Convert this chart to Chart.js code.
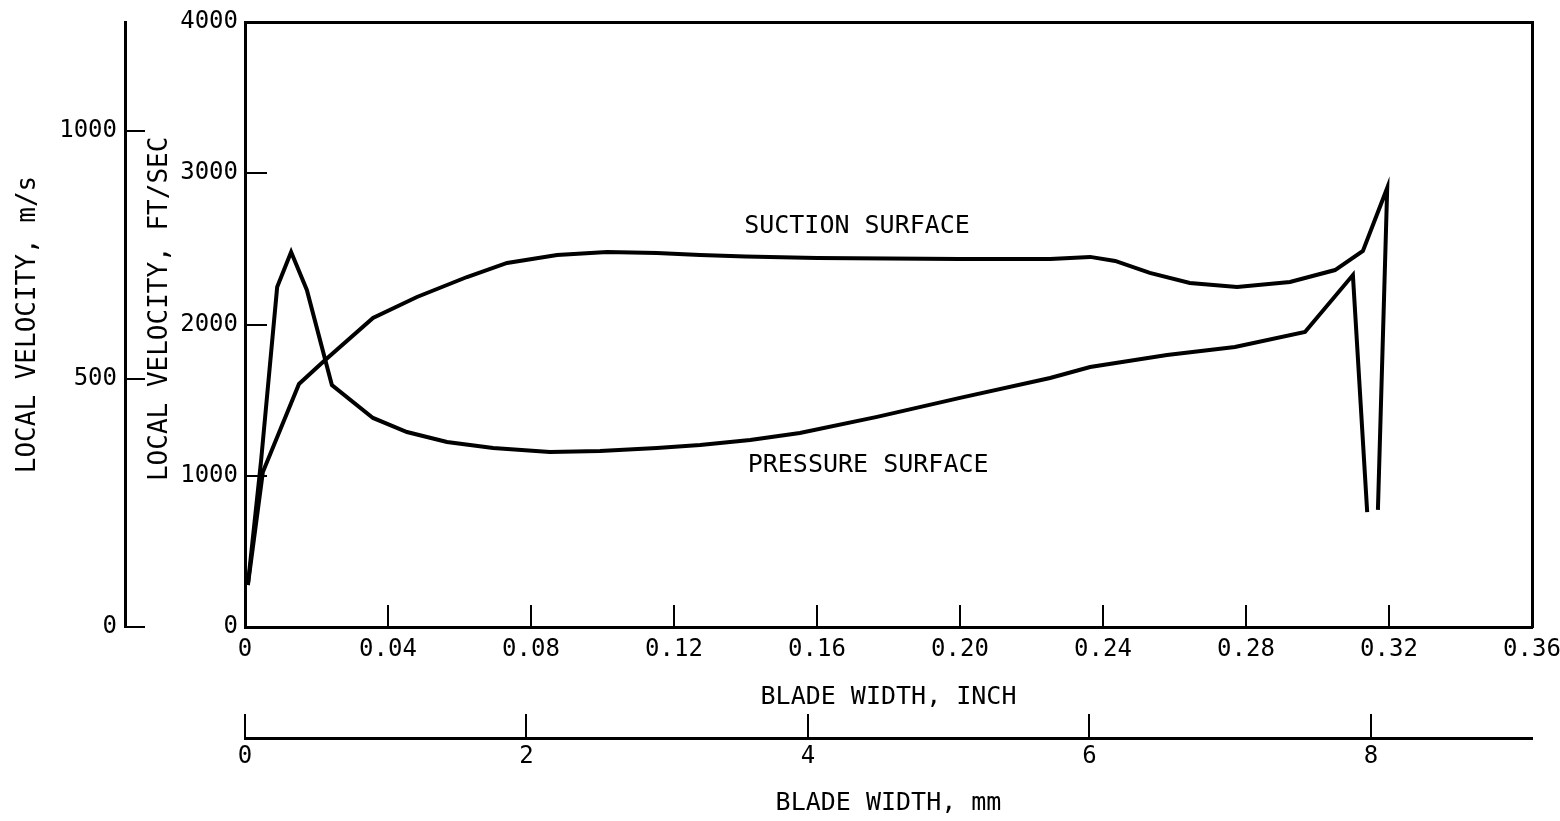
<!DOCTYPE html>
<html>
<head>
<meta charset="utf-8">
<script src="https://cdn.jsdelivr.net/npm/chart.js@4/dist/chart.umd.min.js"></script>
<style>
  html, body { margin: 0; padding: 0; background: #fff; }
  #wrap { width: 1560px; height: 821px; }
</style>
</head>
<body>
<div id="wrap"><canvas id="c" width="1560" height="821"></canvas></div>
<script>
// ---- data (blade width in inches, local velocity in ft/sec) ----
const suctionX = [0.0008, 0.005, 0.0151, 0.0218, 0.0358, 0.0481, 0.0621, 0.0733, 0.0873, 0.1013, 0.1152, 0.1273, 0.14, 0.16, 0.18, 0.20, 0.2252, 0.2364, 0.2434, 0.2531, 0.2643, 0.2775, 0.2923, 0.3049, 0.3127, 0.3195, 0.3169];
const suctionV = [278, 1025, 1607, 1752, 2043, 2182, 2314, 2407, 2460, 2479, 2473, 2460, 2450, 2440, 2437, 2433, 2433, 2447, 2420, 2341, 2275, 2248, 2281, 2360, 2486, 2903, 774];

const pressureX = [0.0008, 0.0045, 0.0090, 0.0129, 0.0173, 0.0243, 0.0358, 0.0453, 0.0565, 0.0694, 0.0853, 0.0993, 0.1152, 0.1273, 0.1413, 0.1552, 0.1768, 0.20, 0.2252, 0.2364, 0.2579, 0.2769, 0.2965, 0.3099, 0.3139];
const pressureV = [278, 1100, 2248, 2479, 2228, 1600, 1382, 1289, 1223, 1184, 1157, 1164, 1184, 1203, 1236, 1283, 1389, 1515, 1646, 1719, 1798, 1851, 1950, 2327, 760];

// ---- ticks ----
const inchTicks = [0, 0.04, 0.08, 0.12, 0.16, 0.20, 0.24, 0.28, 0.32, 0.36];
const inchLabels = ["0", "0.04", "0.08", "0.12", "0.16", "0.20", "0.24", "0.28", "0.32", "0.36"];
const mmTicks = [0, 2, 4, 6, 8];
const mmLabels = ["0", "2", "4", "6", "8"];
const ftTicks = [0, 1000, 2000, 3000, 4000];
const ftLabels = ["0", "1000", "2000", "3000", "4000"];
const msTicks = [0, 500, 1000];
const msLabels = ["0", "500", "1000"];

// ---- annotations (data coordinates) ----
const noteText = ["SUCTION SURFACE", "PRESSURE SURFACE"];
const noteX = [0.1712, 0.1743];
const noteV = [2651, 1071];

const FONT = "'DejaVu Sans Mono', monospace";
const toPts = (xs, ys) => xs.map((x, i) => ({ x: x, y: ys[i] }));
const fixTicks = (vals) => (scale) => { scale.ticks = vals.map(v => ({ value: v })); };
const lab = (vals, labels) => (value) => { const i = vals.indexOf(value); return i >= 0 ? labels[i] : ''; };
const noPad = (s) => { s.paddingTop = 0; s.paddingBottom = 0; s.paddingLeft = 0; s.paddingRight = 0; };

const annot = {
  id: 'annot',
  afterDatasetsDraw(chart) {
    const ctx = chart.ctx, xs = chart.scales.x, ys = chart.scales.y;
    ctx.save();
    ctx.fillStyle = '#000';
    ctx.font = "25px " + FONT;
    ctx.textAlign = 'center';
    ctx.textBaseline = 'middle';
    noteText.forEach((t, i) => ctx.fillText(t, xs.getPixelForValue(noteX[i]), ys.getPixelForValue(noteV[i])));
    ctx.restore();
  }
};

const axisCommon = (tickLen, pad, fontSize) => ({
  grid: { display: true, drawOnChartArea: false, drawTicks: true, tickLength: tickLen, color: '#000', lineWidth: 2 },
  border: { display: true, color: '#000', width: 3 },
  ticks: { color: '#000', padding: pad, font: { family: FONT, size: fontSize }, maxRotation: 0, autoSkip: false }
});

new Chart(document.getElementById('c'), {
  type: 'scatter',
  data: {
    datasets: [
      { label: 'Suction surface', data: toPts(suctionX, suctionV), showLine: true, borderColor: '#000', borderWidth: 4, pointRadius: 0, tension: 0, fill: false },
      { label: 'Pressure surface', data: toPts(pressureX, pressureV), showLine: true, borderColor: '#000', borderWidth: 4, pointRadius: 0, tension: 0, fill: false }
    ]
  },
  options: {
    responsive: false,
    animation: false,
    devicePixelRatio: 1,
    layout: { padding: { top: 22, right: 28, left: 0, bottom: 0 } },
    plugins: { legend: { display: false }, tooltip: { enabled: false } },
    scales: {
      x: Object.assign(axisCommon(-22, 30.6, 24), {
        type: 'linear', position: 'bottom', weight: 0, min: 0, max: 0.36,
        afterBuildTicks: fixTicks(inchTicks),
        afterFit: (s) => { s.height = 111; noPad(s); },
        title: { display: true, text: 'BLADE WIDTH, INCH', color: '#000', font: { family: FONT, size: 25 }, padding: { top: 0, bottom: 26 } }
      }),
      x2: Object.assign(axisCommon(-24, 28.6, 24), {
        type: 'linear', position: 'bottom', weight: 1, min: 0, max: 9.144,
        afterBuildTicks: fixTicks(mmTicks),
        afterFit: (s) => { s.height = 83; noPad(s); },
        title: { display: true, text: 'BLADE WIDTH, mm', color: '#000', font: { family: FONT, size: 25 }, padding: { top: 0, bottom: 3 } }
      }),
      y: Object.assign(axisCommon(-22, 29, 24), {
        type: 'linear', position: 'left', weight: 0, min: 0, max: 4000,
        afterBuildTicks: fixTicks(ftTicks),
        afterFit: (s) => { s.width = 120; noPad(s); },
        title: { display: true, text: '  LOCAL VELOCITY, FT/SEC', color: '#000', font: { family: FONT, size: 26 }, padding: { top: 19.4, bottom: 0 } }
      }),
      y2: Object.assign(axisCommon(-20, 28, 24), {
        type: 'linear', position: 'left', weight: 1, min: 0, max: 1219.2,
        afterBuildTicks: fixTicks(msTicks),
        afterFit: (s) => { s.width = 125; noPad(s); },
        title: { display: true, text: 'LOCAL VELOCITY, m/s', color: '#000', font: { family: FONT, size: 26 }, padding: { top: 12.4, bottom: 0 } }
      }),
      xTop: {
        type: 'linear', position: 'top', min: 0, max: 1,
        grid: { display: false }, ticks: { display: false },
        border: { display: true, color: '#000', width: 3 },
        afterFit: (s) => { s.height = 0; noPad(s); }
      },
      yRight: {
        type: 'linear', position: 'right', min: 0, max: 1,
        grid: { display: false }, ticks: { display: false },
        border: { display: true, color: '#000', width: 3 },
        afterFit: (s) => { s.width = 0; noPad(s); }
      }
    }
  },
  plugins: [annot]
});

// tick label callbacks
const ch = Chart.getChart('c');
ch.options.scales.x.ticks.callback = lab(inchTicks, inchLabels);
ch.options.scales.x2.ticks.callback = lab(mmTicks, mmLabels);
ch.options.scales.y.ticks.callback = lab(ftTicks, ftLabels);
ch.options.scales.y2.ticks.callback = lab(msTicks, msLabels);
ch.update();
</script>
</body>
</html>
